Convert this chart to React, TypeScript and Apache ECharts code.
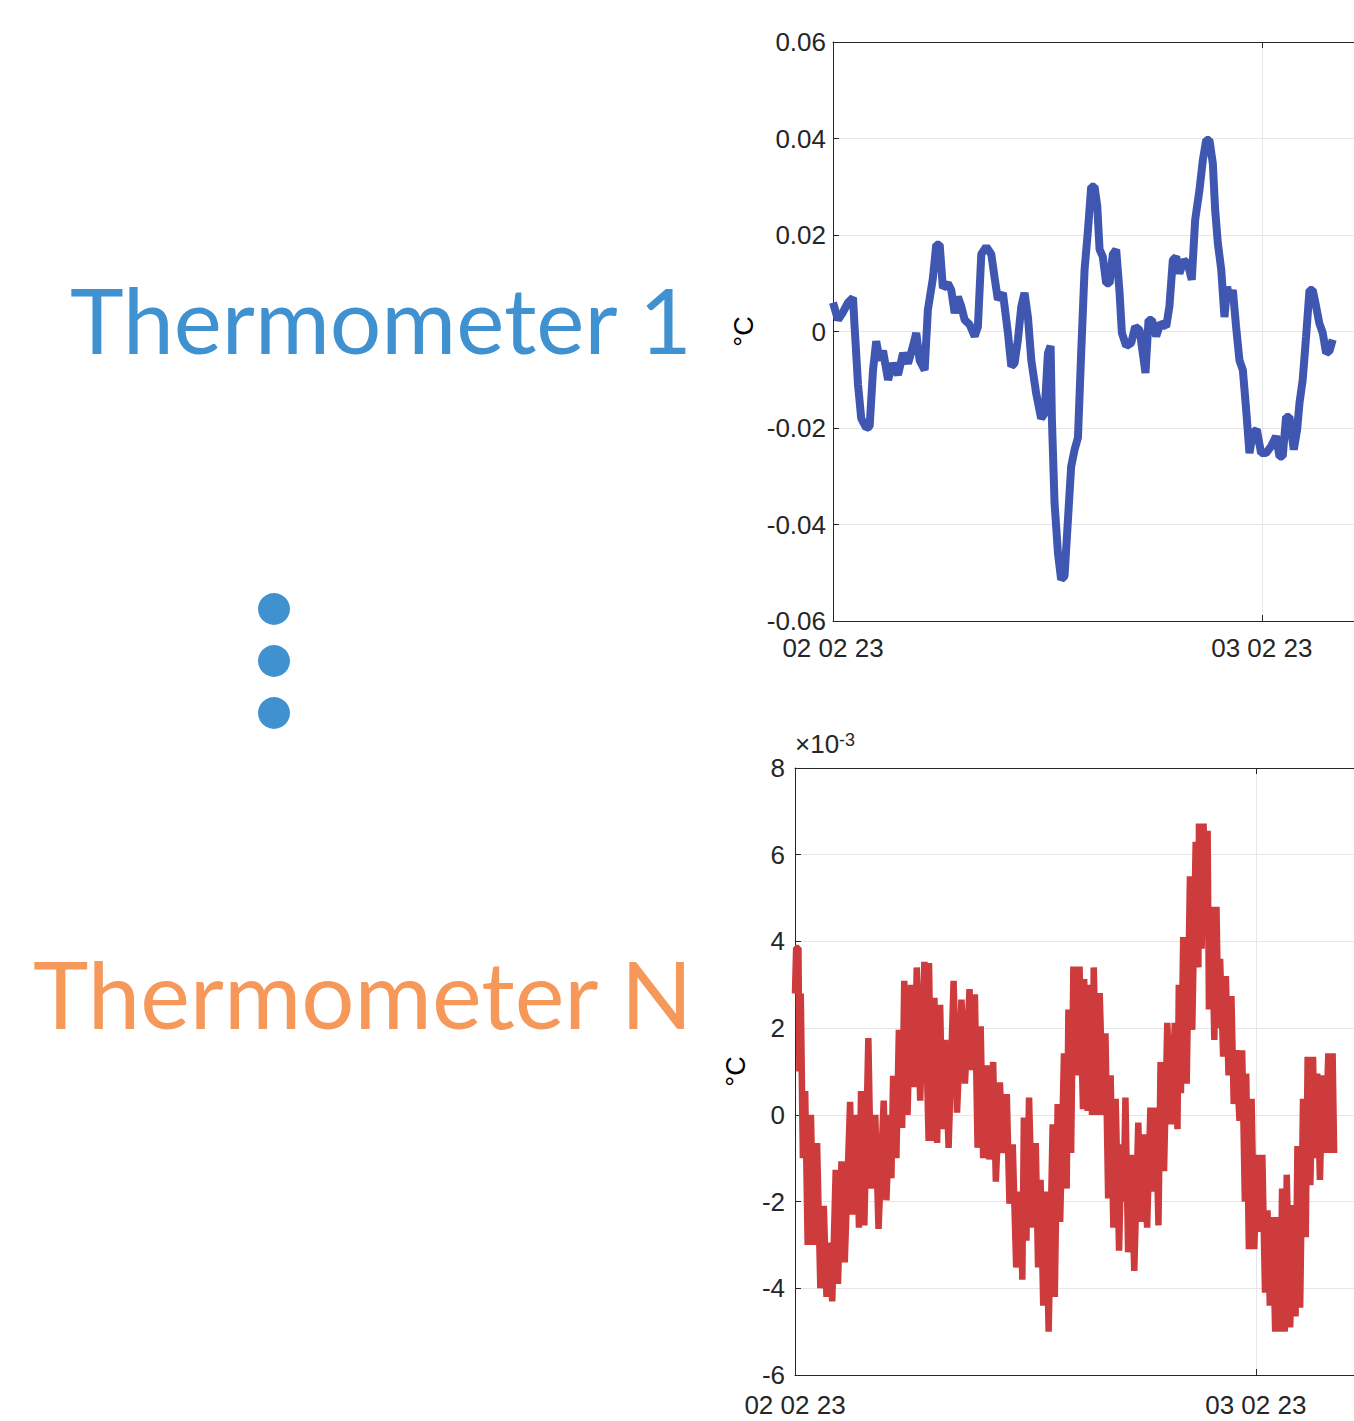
import React, { useEffect, useRef } from "react";
import * as echarts from "echarts";

// Thermometer 1 (°C), time in hours from 02 02 23 00:00
const t1Hours = [
  0.0, 0.28, 0.56, 0.84, 1.12, 1.21, 1.4, 1.58, 1.86, 2.05, 2.24, 2.42, 2.61, 2.8, 3.08, 3.36, 3.64, 3.92, 4.2, 4.48,
  4.66, 4.85, 5.13, 5.31, 5.59, 5.78, 5.97, 6.15, 6.43, 6.62, 6.81, 6.99, 7.18, 7.37, 7.65, 7.93, 8.11, 8.3, 8.58, 8.86,
  9.05, 9.23, 9.51, 9.79, 9.98, 10.16, 10.35, 10.54, 10.72, 10.91, 11.1, 11.37, 11.65, 11.84, 12.03, 12.18, 12.25, 12.4,
  12.59, 12.77, 12.96, 13.15, 13.33, 13.52, 13.71, 13.89, 14.08, 14.27, 14.45, 14.64, 14.79, 14.92, 15.1, 15.29, 15.48,
  15.66, 15.85, 16.04, 16.17, 16.41, 16.69, 16.91, 17.16, 17.34, 17.49, 17.66, 17.85, 18.09, 18.33, 18.65, 18.83, 19.02,
  19.21, 19.39, 19.64, 19.86, 20.08, 20.27, 20.51, 20.7, 20.89, 21.07, 21.26, 21.39, 21.54, 21.73, 21.91, 22.06, 22.19,
  22.38, 22.56, 22.75, 22.94, 23.12, 23.31, 23.5, 23.72, 23.96, 24.24, 24.52, 24.8, 24.99, 25.17, 25.36, 25.55, 25.79,
  25.98, 26.11, 26.29, 26.48, 26.67, 26.85, 27.04, 27.22, 27.41, 27.6, 27.79, 27.97,
];
const t1Values = [
  0.006, 0.0024, 0.004, 0.006, 0.007, 0.001, -0.011, -0.018, -0.02, -0.0197, -0.008, -0.002, -0.006, -0.004, -0.01,
  -0.0066, -0.009, -0.0045, -0.0066, -0.003, -0.0003, -0.006, -0.008, 0.0045, 0.011, 0.018, 0.018, 0.009, 0.01, 0.0086,
  0.0038, 0.0072, 0.0052, 0.0024, 0.0014, -0.001, 0.001, 0.016, 0.0176, 0.016, 0.011, 0.0066, 0.008, -0.0003, -0.0072,
  -0.0066, -0.0017, 0.0052, 0.008, 0.003, -0.006, -0.0128, -0.018, -0.017, -0.0045, -0.003, -0.018, -0.0355, -0.0459,
  -0.0514, -0.0507, -0.039, -0.028, -0.0245, -0.022, -0.0045, 0.0128, 0.021, 0.03, 0.03, 0.026, 0.017, 0.0155, 0.01,
  0.01, 0.016, 0.017, 0.008, -0.0003, -0.003, -0.0024, 0.001, 0.0003, -0.0045, -0.0086, 0.0024, 0.0024, -0.001, 0.0017,
  0.001, 0.0052, 0.0148, 0.0155, 0.012, 0.0148, 0.014, 0.0107, 0.0231, 0.0293, 0.0355, 0.0397, 0.0397, 0.0348, 0.0252,
  0.0183, 0.0128, 0.003, 0.0093, 0.0066, 0.0086, 0.001, -0.006, -0.008, -0.016, -0.0252, -0.021, -0.0203, -0.0252,
  -0.0252, -0.0238, -0.0217, -0.0259, -0.0259, -0.0177, -0.0177, -0.0245, -0.0203, -0.0148, -0.01, -0.001, 0.0086,
  0.0086, 0.0052, 0.0017, -0.0003, -0.0045, -0.004, -0.0017,
];

// Thermometer N (units of 1e-3 °C)
const tNHours = [
  0.0, 0.06, 0.18, 0.23, 0.3, 0.41, 0.53, 0.66, 0.83, 0.97, 1.15, 1.32, 1.5, 1.64, 1.76, 1.94, 2.12, 2.24, 2.42, 2.59,
  2.87, 3.01, 3.22, 3.33, 3.44, 3.61, 3.82, 3.96, 4.18, 4.35, 4.62, 4.76, 4.93, 5.02, 5.11, 5.28, 5.41, 5.58, 5.69, 5.86,
  6.04, 6.22, 6.34, 6.52, 6.74, 6.96,
  6.98, 7.12, 7.26, 7.4, 7.56, 7.68, 7.82, 8.0, 8.26, 8.44, 8.67, 8.85, 9.09, 9.23, 9.37, 9.51, 9.67, 9.8, 9.97, 10.11,
  10.32, 10.46, 10.67, 10.85, 11.03, 11.17, 11.34, 11.52, 11.73, 11.84, 11.92, 12.05, 12.19, 12.37, 12.54, 12.66, 12.79,
  12.93, 13.07, 13.21, 13.42, 13.53, 13.68, 13.81,
  14.01, 14.15, 14.24, 14.38, 14.5, 14.68, 14.82, 15.0, 15.06, 15.24, 15.34, 15.47, 15.56, 15.73, 15.87, 16.05, 16.17,
  16.31, 16.44, 16.58, 16.7, 16.88, 17.0, 17.11, 17.21, 17.35, 17.49, 17.67, 17.88, 18.02, 18.16, 18.34, 18.51, 18.65,
  18.79, 18.93, 19.04, 19.22, 19.39, 19.6, 19.78, 19.92, 19.99, 20.1, 20.22, 20.4, 20.57, 20.69, 20.87, 21.01,
  21.04, 21.18, 21.28, 21.39, 21.49, 21.56, 21.7, 21.84, 21.95, 22.06, 22.14, 22.3, 22.44, 22.58, 22.73, 22.85, 22.97,
  23.15, 23.29, 23.43, 23.5, 23.64, 23.78, 23.92, 24.06, 24.2, 24.34, 24.48, 24.61, 24.73, 24.87, 25.01, 25.14, 25.26,
  25.37, 25.51, 25.61, 25.79, 25.96, 26.07, 26.17, 26.31, 26.46, 26.6, 26.7, 26.84, 26.98, 27.09, 27.2, 27.34, 27.48,
  27.6, 27.78, 27.9, 28.0, 28.08,
];
const tNValues = [
  2.8, 3.85, 3.85, 1.0, 2.8, -1.0, 0.55, -3.0, 0.0, -3.0, -0.65, -4.0, -2.1, -4.2, -2.95, -4.3, -1.27, -3.9, -1.07, -3.4,
  0.3, -2.3, 0.0, -2.6, 0.55, -2.55, 1.77, -1.7, 0.0, -2.63, 0.33, -1.97, 0.0, -1.46, 0.9, -1.0, 1.96, -0.3, 3.09, 0.0,
  3.0, 0.64, 3.4, 0.33, 3.53, -0.6,
  3.5, -0.6, 2.7, -0.65, 2.54, -0.33, 1.73, -0.76, 3.09, 0.05, 2.66, 0.72, 2.9, 1.03, 2.78, -0.76, 2.04, -1.0, 1.14,
  -1.03, 1.22, -1.54, 0.75, -0.88, 0.48, -2.05, -0.68, -3.52, -1.77, -3.8, -0.06, -2.9, 0.4, -2.6, -0.65, -3.52, -1.5,
  -4.4, -1.77, -5.0, -0.22, -4.2, 0.25, -2.47,
  1.42, -1.7, 2.43, -0.88, 3.42, 0.91, 3.42, 0.13, 3.13, 0.09, 3.0, 0.0, 3.4, 0.0, 2.81, 0.0, 1.88, -1.93, 0.91, -2.6,
  0.37, -3.13, -0.68, -2.0, 0.4, -3.17, -0.92, -3.6, -0.18, -2.47, -0.45, -2.6, 0.17, -1.77, 0.17, -2.55, 1.22, -1.3,
  2.12, -0.22, 2.12, -0.33, 3.0, 0.5, 4.1, 0.72, 5.5, 1.96, 6.3, 3.4,
  6.72, 3.83, 6.72, 4.5, 6.55, 2.43, 4.8, 1.73, 4.8, 2.0, 3.6, 1.34, 3.2, 0.91, 2.74, 0.25, 1.49, -0.14, 1.49, -2.0,
  0.95, -3.1, 0.37, -3.1, -0.92, -2.7, -0.92, -4.1, -2.2, -4.4, -2.36, -5.0, -2.36, -5.0, -1.7, -5.0, -1.38, -4.9,
  -2.08, -4.65, -0.72, -4.45, 0.37, -2.82, 1.34, -1.62, 1.34, -1.0, 0.95, -1.5, 0.91, -0.88, 1.42, -0.88, 1.42, -0.88,
];

const xTickLabels = ["02 02 23", "03 02 23"];
const yTickLabels1 = ["-0.06", "-0.04", "-0.02", "0", "0.02", "0.04", "0.06"];
const yTickLabelsN = ["-6", "-4", "-2", "0", "2", "4", "6", "8"];
const titles = ["Thermometer 1", "Thermometer N"];
const unitLabel = "°C";

const AX = "#262626";
const GRID = "#E6E6E6";
const FONT = "Liberation Sans";
const BLUE_TXT = "#4091D0";
const ORANGE_TXT = "#F5985A";

function xAxisFor(gridIndex: number, margin: number) {
  return {
    type: "value",
    gridIndex,
    min: 0,
    max: 30,
    interval: 24,
    axisLine: { show: true, onZero: false, lineStyle: { color: AX, width: 1 } },
    axisTick: { show: true, inside: true, length: 6, lineStyle: { color: AX } },
    axisLabel: {
      fontSize: 26,
      color: AX,
      fontFamily: FONT,
      margin,
      formatter: (v: number) => (Math.abs(v % 24) < 1e-9 ? xTickLabels[Math.round(v / 24)] ?? "" : ""),
    },
    splitLine: { show: true, lineStyle: { color: GRID, width: 1 } },
  };
}

function topAxisFor(gridIndex: number) {
  return {
    type: "value",
    gridIndex,
    position: "top",
    min: 0,
    max: 30,
    interval: 24,
    axisLine: { show: true, onZero: false, lineStyle: { color: AX, width: 1 } },
    axisTick: { show: true, inside: true, length: 6, lineStyle: { color: AX } },
    axisLabel: { show: false },
    splitLine: { show: false },
  };
}

export default function App() {
  const ref = useRef<HTMLDivElement>(null);
  useEffect(() => {
    document.body.style.margin = "0";
    document.body.style.overflow = "hidden";
    const chart = echarts.init(ref.current!, null, { renderer: "svg" });
    const option = {
      animation: false,
      backgroundColor: "#ffffff",
      grid: [
        { left: 833, top: 42, width: 536, height: 579, show: false },
        { left: 795, top: 768, width: 576, height: 607, show: false },
      ],
      xAxis: [xAxisFor(0, 14), xAxisFor(1, 17), topAxisFor(0), topAxisFor(1)],
      yAxis: [
        {
          type: "value",
          gridIndex: 0,
          min: -0.06,
          max: 0.06,
          interval: 0.02,
          name: unitLabel,
          nameLocation: "middle",
          nameRotate: 90,
          nameGap: 76,
          nameTextStyle: { fontSize: 27, color: "#000", fontFamily: FONT },
          axisLine: { show: true, onZero: false, lineStyle: { color: AX } },
          axisTick: { show: true, inside: true, length: 6, lineStyle: { color: AX } },
          axisLabel: {
            fontSize: 26,
            color: AX,
            fontFamily: FONT,
            margin: 7,
            formatter: (v: number) => yTickLabels1[Math.round((v + 0.06) / 0.02)] ?? "",
          },
          splitLine: { show: true, lineStyle: { color: GRID } },
        },
        {
          type: "value",
          gridIndex: 1,
          min: -6,
          max: 8,
          interval: 2,
          name: unitLabel,
          nameLocation: "middle",
          nameRotate: 90,
          nameGap: 46,
          nameTextStyle: { fontSize: 27, color: "#000", fontFamily: FONT },
          axisLine: { show: true, onZero: false, lineStyle: { color: AX } },
          axisTick: { show: true, inside: true, length: 6, lineStyle: { color: AX } },
          axisLabel: {
            fontSize: 26,
            color: AX,
            fontFamily: FONT,
            margin: 10,
            formatter: (v: number) => yTickLabelsN[Math.round((v + 6) / 2)] ?? "",
          },
          splitLine: { show: true, lineStyle: { color: GRID } },
        },
      ],
      series: [
        {
          type: "line",
          xAxisIndex: 0,
          yAxisIndex: 0,
          data: t1Hours.map((h, i) => [h, t1Values[i]]),
          showSymbol: false,
          symbol: "none",
          lineStyle: { color: "#4057B2", width: 8 },
          silent: true,
        },
        {
          type: "line",
          xAxisIndex: 1,
          yAxisIndex: 1,
          data: tNHours.map((h, i) => [h, tNValues[i]]),
          showSymbol: false,
          symbol: "none",
          lineStyle: { color: "#CE3B3D", width: 6.5 },
          silent: true,
        },
      ],
      graphic: [
        {
          type: "text",
          left: 795,
          top: 731,
          style: {
            text: "{a|×10}{b|-3}",
            rich: {
              a: { fontSize: 26, fontFamily: FONT, fill: AX, verticalAlign: "bottom" },
              b: { fontSize: 18, fontFamily: FONT, fill: AX, verticalAlign: "top" },
            },
          },
        },
        {
          type: "text",
          x: 70,
          y: 318,
          style: {
            text: titles[0],
            fontFamily: "Lato",
            fontSize: 91,
            fill: BLUE_TXT,
            verticalAlign: "middle",
            align: "left",
          },
        },
        {
          type: "text",
          x: 33,
          y: 992,
          style: {
            text: titles[1],
            fontFamily: "Lato",
            fontSize: 94,
            fill: ORANGE_TXT,
            verticalAlign: "middle",
            align: "left",
          },
        },
        { type: "circle", shape: { cx: 274, cy: 609, r: 16 }, style: { fill: BLUE_TXT } },
        { type: "circle", shape: { cx: 274, cy: 661, r: 16 }, style: { fill: BLUE_TXT } },
        { type: "circle", shape: { cx: 274, cy: 713, r: 16 }, style: { fill: BLUE_TXT } },
      ],
    };
    chart.setOption(option as any);
    return () => chart.dispose();
  }, []);
  return <div ref={ref} style={{ width: 1420, height: 1421 }} />;
}
